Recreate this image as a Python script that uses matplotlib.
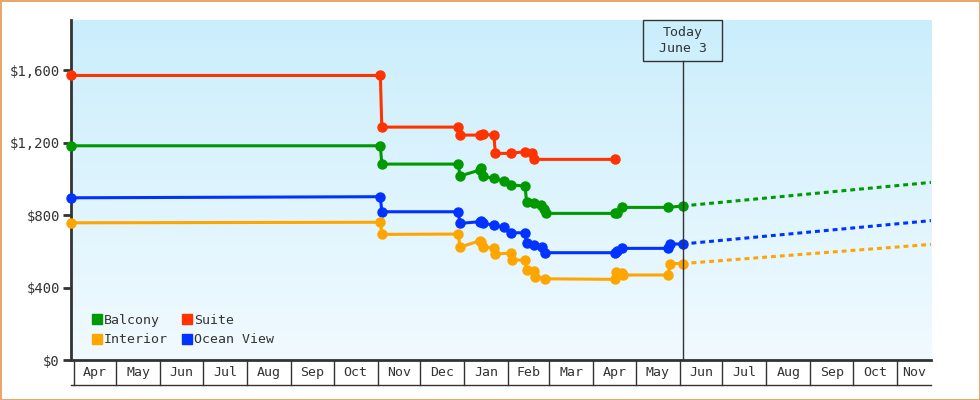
import matplotlib
matplotlib.use('Agg')
import matplotlib.pyplot as plt
import matplotlib.dates as mdates
import matplotlib.transforms as mtransforms
from matplotlib.colors import LinearSegmentedColormap
from matplotlib.patches import Patch, Rectangle
import numpy as np
import pandas as pd

# price history per cabin type (date, price)
suite_dates = ['2023-03-30', '2023-11-03', '2023-11-04', '2023-12-28', '2023-12-29',
               '2024-01-12', '2024-01-14', '2024-01-22', '2024-01-23', '2024-02-03',
               '2024-02-13', '2024-02-18', '2024-02-19', '2024-04-16']
suite_prices = [1570, 1570, 1285, 1285, 1241, 1241, 1245, 1241, 1140, 1140,
                1150, 1140, 1107, 1107]

balcony_dates = ['2023-03-30', '2023-11-03', '2023-11-04', '2023-12-28', '2023-12-29',
                 '2024-01-12', '2024-01-13', '2024-01-14', '2024-01-22', '2024-01-29',
                 '2024-02-03', '2024-02-13', '2024-02-14', '2024-02-19', '2024-02-24',
                 '2024-02-26', '2024-02-28', '2024-04-16', '2024-04-18', '2024-04-21',
                 '2024-05-24', '2024-06-03']
balcony_prices = [1182, 1182, 1081, 1081, 1015, 1048, 1059, 1015, 1002, 988,
                  966, 960, 873, 868, 855, 831, 809, 809, 812, 842, 842, 850]

ocean_dates = ['2023-03-30', '2023-11-03', '2023-11-04', '2023-12-28', '2023-12-29',
               '2024-01-12', '2024-01-13', '2024-01-14', '2024-01-22', '2024-01-29',
               '2024-02-03', '2024-02-13', '2024-02-14', '2024-02-19', '2024-02-25',
               '2024-02-27', '2024-04-16', '2024-04-18', '2024-04-21', '2024-05-24',
               '2024-05-25', '2024-06-03']
ocean_prices = [895, 901, 818, 818, 754, 763, 768, 754, 745, 732,
                702, 702, 644, 634, 625, 592, 592, 600, 616, 616, 640, 640]

interior_dates = ['2023-03-30', '2023-11-03', '2023-11-04', '2023-12-28', '2023-12-29',
                  '2024-01-12', '2024-01-13', '2024-01-14', '2024-01-22', '2024-01-23',
                  '2024-02-03', '2024-02-04', '2024-02-13', '2024-02-14', '2024-02-19',
                  '2024-02-20', '2024-02-27', '2024-04-16', '2024-04-17', '2024-04-21',
                  '2024-04-22', '2024-05-24', '2024-05-25', '2024-06-03']
interior_prices = [757, 760, 693, 695, 622, 658, 650, 622, 620, 585,
                   590, 552, 552, 495, 490, 460, 448, 445, 485, 478,
                   469, 469, 532, 532]

# forecast (dashed) start / end
forecast_dates = ['2024-06-03', '2024-11-25']
balcony_forecast = [850, 980]
ocean_forecast = [640, 769]
interior_forecast = [532, 638]

month_labels = ['Apr', 'May', 'Jun', 'Jul', 'Aug', 'Sep', 'Oct', 'Nov', 'Dec', 'Jan',
                'Feb', 'Mar', 'Apr', 'May', 'Jun', 'Jul', 'Aug', 'Sep', 'Oct', 'Nov']
y_ticks = [0, 400, 800, 1200, 1600]

today = pd.Timestamp('2024-06-03')
x_start = pd.Timestamp('2023-03-30')
x_end = pd.Timestamp('2024-11-25')

c_red = '#ff3300'
c_green = '#009900'
c_blue = '#0033ff'
c_orange = '#ffa500'
c_dark = '#333333'
font = 'DejaVu Sans Mono'

fig = plt.figure(figsize=(9.8, 4), dpi=100)
fig.patch.set_facecolor('white')
fig.patch.set_edgecolor('#e8a868')
fig.patch.set_linewidth(2)

ax = fig.add_axes([71 / 980, 40 / 400, 860 / 980, 340 / 400])

# background gradient
grad = np.linspace(0, 1, 256).reshape(-1, 1)
bg = LinearSegmentedColormap.from_list('bg', ['#cbeefc', '#f1faff'])
ax.imshow(grad, cmap=bg, extent=[0, 1, 0, 1], transform=ax.transAxes,
          aspect='auto', zorder=0)


def to_dt(lst):
    return pd.to_datetime(lst)


lw = 2.2
ms = 6.5
for d, p, col in [(suite_dates, suite_prices, c_red),
                  (balcony_dates, balcony_prices, c_green),
                  (ocean_dates, ocean_prices, c_blue),
                  (interior_dates, interior_prices, c_orange)]:
    ax.plot(to_dt(d), p, color=col, lw=lw, marker='o', ms=ms, mec=col,
            clip_on=False, zorder=4)

for f, col in [(balcony_forecast, c_green), (ocean_forecast, c_blue),
               (interior_forecast, c_orange)]:
    ax.plot(to_dt(forecast_dates), f, color=col, lw=lw, ls=(0, (1.6, 1.3)), zorder=3)

ax.set_xlim(x_start, x_end)
ax.set_ylim(0, 1876)

# spines and ticks
for s in ['top', 'right']:
    ax.spines[s].set_visible(False)
for s in ['left', 'bottom']:
    ax.spines[s].set_color(c_dark)
    ax.spines[s].set_linewidth(2)
    ax.spines[s].set_zorder(2)
ax.set_yticks(y_ticks)
ax.set_yticklabels(['${:,}'.format(v) for v in y_ticks])
ax.tick_params(axis='y', direction='out', length=6, width=2, color=c_dark,
               labelcolor=c_dark, labelsize=10, pad=2)
for t in ax.get_yticklabels():
    t.set_fontfamily(font)
ax.set_xticks([])

# month band below the axis
trans = mtransforms.blended_transform_factory(ax.transData, ax.transAxes)
band = -25 / 340
bounds = pd.date_range('2023-04-01', periods=len(month_labels) + 1, freq='MS')
for i, lab in enumerate(month_labels):
    a = max(bounds[i], x_start)
    b = min(bounds[i + 1], x_end)
    ax.plot([bounds[i], bounds[i]], [0, band], color=c_dark, lw=1,
            transform=trans, clip_on=False)
    mid = a + (b - a) / 2
    ax.text(mid, band / 2, lab, transform=trans, ha='center', va='center',
            fontsize=9.5, color=c_dark, fontfamily=font)
ax.plot([0, 1], [band, band], color=c_dark, lw=1, transform=ax.transAxes,
        clip_on=False)

# today marker
box_h = 41 / 340
ax.plot([today, today], [0, 1 - box_h], color=c_dark, lw=1, transform=trans,
        zorder=5)
ax.add_patch(Rectangle((mdates.date2num(today) - 28, 1 - box_h), 56, box_h,
                       transform=trans, fill=False, ec=c_dark, lw=1,
                       clip_on=False, zorder=5))
ax.text(today, 1 - box_h / 2, 'Today\nJune 3', transform=trans, ha='center',
        va='center', fontsize=9.5, color=c_dark, fontfamily=font, linespacing=1.35)

# legend
handles = [Patch(color=c_green, label='Balcony'), Patch(color=c_orange, label='Interior'),
           Patch(color=c_red, label='Suite'), Patch(color=c_blue, label='Ocean View')]
leg = ax.legend(handles=handles, ncol=2, loc='lower left', bbox_to_anchor=(0.024, 0.04),
                frameon=False, prop={'family': font, 'size': 9.5},
                handlelength=0.75, handleheight=0.75, handletextpad=0.15,
                columnspacing=1.1, labelspacing=0.5, borderpad=0, borderaxespad=0)
for t in leg.get_texts():
    t.set_color(c_dark)

fig.savefig('out.png', dpi=100)
